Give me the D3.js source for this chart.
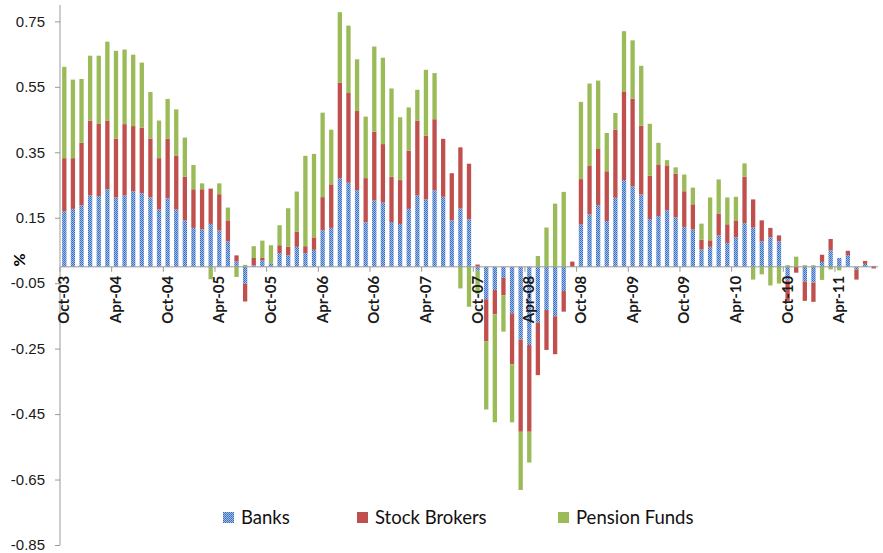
<!DOCTYPE html>
<html lang="en">
<head>
    <meta charset="UTF-8">
    <title>Banks, Stock Brokers, Pension Funds</title>
    <script src="https://d3js.org/d3.v7.min.js"></script>
    <style>
        body { margin: 0; background: #fff; }
        svg { display: block; font-family: Lato, "Open Sans", sans-serif; }
        .axis .domain, .axis line { stroke: #9a9a9a; }
        .y-axis text { font-size: 15px; fill: #1a1a1a; }
        .x-label { font-size: 15px; font-weight: bold; fill: #1a1a1a; }
        .legend text { font-size: 18.5px; fill: #111; }
    </style>
</head>
<body>
<script>
    const width = 883, height = 553;

    // monthly observations, Oct-03 .. Aug-11
    const startMonth = new Date(2003, 9, 1), endMonth = new Date(2011, 8, 1);
    const tickLabels = ["Oct-03", "Apr-04", "Oct-04", "Apr-05", "Oct-05", "Apr-06", "Oct-06", "Apr-07",
                        "Oct-07", "Apr-08", "Oct-08", "Apr-09", "Oct-09", "Apr-10", "Oct-10", "Apr-11"];
    const yTicks = [-0.85, -0.65, -0.45, -0.25, -0.05, 0.15, 0.35, 0.55, 0.75];

    const banks = [
        0.170, 0.177, 0.188, 0.218, 0.216, 0.237, 0.212, 0.218, 0.231, 0.225, 0.212, 0.175,
        0.209, 0.175, 0.142, 0.119, 0.114, 0.131, 0.111, 0.078, 0.016, -0.052, 0.005, 0.019,
        0.011, 0.042, 0.035, 0.061, 0.042, 0.052, 0.112, 0.119, 0.271, 0.257, 0.234, 0.136,
        0.203, 0.196, 0.137, 0.131, 0.177, 0.218, 0.206, 0.234, 0.214, 0.142, 0.178, 0.145,
        -0.012, -0.099, -0.071, -0.034, -0.142, -0.222, -0.239, -0.170, -0.132, -0.151, -0.074, 0.000,
        0.129, 0.160, 0.188, 0.140, 0.211, 0.265, 0.246, 0.221, 0.146, 0.155, 0.173, 0.151,
        0.122, 0.114, 0.053, 0.061, 0.096, 0.073, 0.090, 0.134, 0.120, 0.078, 0.090, 0.078,
        -0.042, 0.000, -0.045, -0.048, 0.015, 0.050, 0.027, 0.036, -0.008, 0.009, 0.003
    ];
    const stockBrokers = [
        0.162, 0.155, 0.191, 0.229, 0.222, 0.210, 0.180, 0.218, 0.199, 0.200, 0.180, 0.157,
        0.182, 0.164, 0.133, 0.118, 0.123, 0.108, 0.111, 0.064, 0.019, -0.054, 0.022, 0.008,
        0.000, 0.024, 0.026, 0.046, 0.021, 0.038, 0.101, 0.133, 0.291, 0.274, 0.242, 0.135,
        0.210, 0.179, 0.138, 0.134, 0.178, 0.229, 0.195, 0.217, 0.177, 0.144, 0.187, 0.170,
        0.007, -0.128, -0.074, -0.053, -0.156, -0.282, -0.265, -0.161, -0.122, -0.116, -0.063, 0.016,
        0.139, 0.148, 0.172, 0.152, 0.208, 0.271, 0.268, 0.210, 0.132, 0.158, 0.137, 0.134,
        0.109, 0.077, 0.030, 0.020, 0.067, 0.057, 0.052, 0.141, 0.086, 0.064, 0.029, 0.018,
        -0.062, -0.018, -0.059, -0.059, 0.022, 0.035, 0.000, 0.013, -0.031, 0.009, -0.005
    ];
    const pensionFunds = [
        0.279, 0.240, 0.195, 0.198, 0.207, 0.241, 0.268, 0.228, 0.218, 0.199, 0.142, 0.115,
        0.122, 0.142, 0.120, 0.074, 0.018, -0.038, 0.033, 0.039, -0.031, 0.006, 0.036, 0.053,
        0.055, 0.061, 0.118, 0.123, 0.276, 0.255, 0.258, 0.167, 0.216, 0.206, 0.158, 0.188,
        0.260, 0.264, 0.270, 0.192, 0.132, 0.094, 0.201, 0.141, 0.000, 0.000, -0.066, -0.122,
        -0.070, -0.209, -0.330, -0.111, -0.177, -0.178, -0.094, 0.033, 0.120, 0.193, 0.229, 0.000,
        0.236, 0.252, 0.209, 0.117, 0.051, 0.184, 0.178, 0.183, 0.159, 0.066, 0.016, 0.019,
        0.051, 0.051, 0.049, 0.131, 0.104, 0.082, 0.072, 0.041, -0.039, -0.023, -0.057, -0.051,
        0.005, 0.031, 0.005, 0.005, -0.040, -0.008, -0.011, 0.000, 0.000, 0.000, 0.000
    ];

    const seriesNames = ["Banks", "Stock Brokers", "Pension Funds"];
    const colors = ["url(#dots)", "#c0504d", "#9bbb59"];

    const months = d3.timeMonth.range(startMonth, endMonth);
    const fmt = d3.timeFormat("%b-%y");
    const rows = months.map((m, i) => ({
        month: fmt(m),
        "Banks": banks[i],
        "Stock Brokers": stockBrokers[i],
        "Pension Funds": pensionFunds[i]
    }));

    const x = d3.scaleBand().domain(rows.map(d => d.month)).range([60, 878]).paddingInner(0.5).paddingOuter(0.25);
    const y = d3.scaleLinear().domain([-0.85, 0.8]).range([545, 5]);

    const svg = d3.select("body").append("svg")
            .attr("width", width).attr("height", height);

    // dotted fill used by Excel for the Banks series
    const pat = svg.append("defs").append("pattern")
            .attr("id", "dots").attr("patternUnits", "userSpaceOnUse")
            .attr("width", 2).attr("height", 2);
    pat.append("rect").attr("width", 2).attr("height", 2).attr("fill", "#9dbde8");
    pat.append("rect").attr("width", 1).attr("height", 1).attr("fill", "#3c6cb8");
    pat.append("rect").attr("x", 1).attr("y", 1).attr("width", 1).attr("height", 1).attr("fill", "#4a7bc4");

    const stacked = d3.stack().keys(seriesNames).offset(d3.stackOffsetDiverging)(rows);

    svg.append("g").selectAll("g")
        .data(stacked)
        .join("g")
            .attr("fill", (d, i) => colors[i])
        .selectAll("rect")
        .data(d => d)
        .join("rect")
            .attr("x", d => x(d.data.month))
            .attr("width", x.bandwidth())
            .attr("y", d => y(Math.max(d[0], d[1])))
            .attr("height", d => Math.abs(y(d[0]) - y(d[1])));

    // y axis
    const axisY = d3.axisLeft(y).tickValues(yTicks).tickSize(5).tickPadding(10)
                    .tickFormat(d3.format(".2f"));
    const gy = svg.append("g").attr("class", "axis y-axis")
            .attr("transform", `translate(60,0)`)
            .call(axisY);
    gy.select(".domain").attr("d", `M0,${y(0.8)}V${y(-0.85)}`);
    gy.selectAll("text").text(d => d3.format(".2f")(d).replace("−", "-"));

    // x axis along zero
    const step = x.step();
    const gx = svg.append("g").attr("class", "axis x-axis");
    gx.append("line")
        .attr("x1", 60).attr("x2", 878)
        .attr("y1", y(0)).attr("y2", y(0));
    const labelled = rows.filter(d => tickLabels.includes(d.month));
    gx.selectAll(".tick-mark")
        .data(labelled)
        .join("line")
            .attr("class", "tick-mark")
            .attr("x1", d => x(d.month) - step * 0.25)
            .attr("x2", d => x(d.month) - step * 0.25)
            .attr("y1", y(0)).attr("y2", y(0) + 5);
    gx.selectAll(".x-label")
        .data(labelled)
        .join("text")
            .attr("class", "x-label")
            .attr("transform", d => `translate(${x(d.month) + x.bandwidth() / 2 + 5},${y(0) + 9}) rotate(-90)`)
            .attr("text-anchor", "end")
            .text(d => d.month);

    // y title
    svg.append("text")
        .attr("transform", `translate(25,${y(0) - 7}) rotate(-90)`)
        .attr("text-anchor", "middle")
        .style("font-size", "16px").style("font-weight", "bold")
        .text("%");

    // legend
    const legendX = [223, 357, 558];
    const legend = svg.append("g").attr("class", "legend")
        .selectAll("g")
        .data(seriesNames)
        .join("g")
            .attr("transform", (d, i) => `translate(${legendX[i]},512)`);
    legend.append("rect")
        .attr("width", 11).attr("height", 11)
        .attr("fill", (d, i) => colors[i]);
    legend.append("text")
        .attr("x", 18).attr("y", 11.5)
        .text(d => d);
</script>
</body>
</html>
